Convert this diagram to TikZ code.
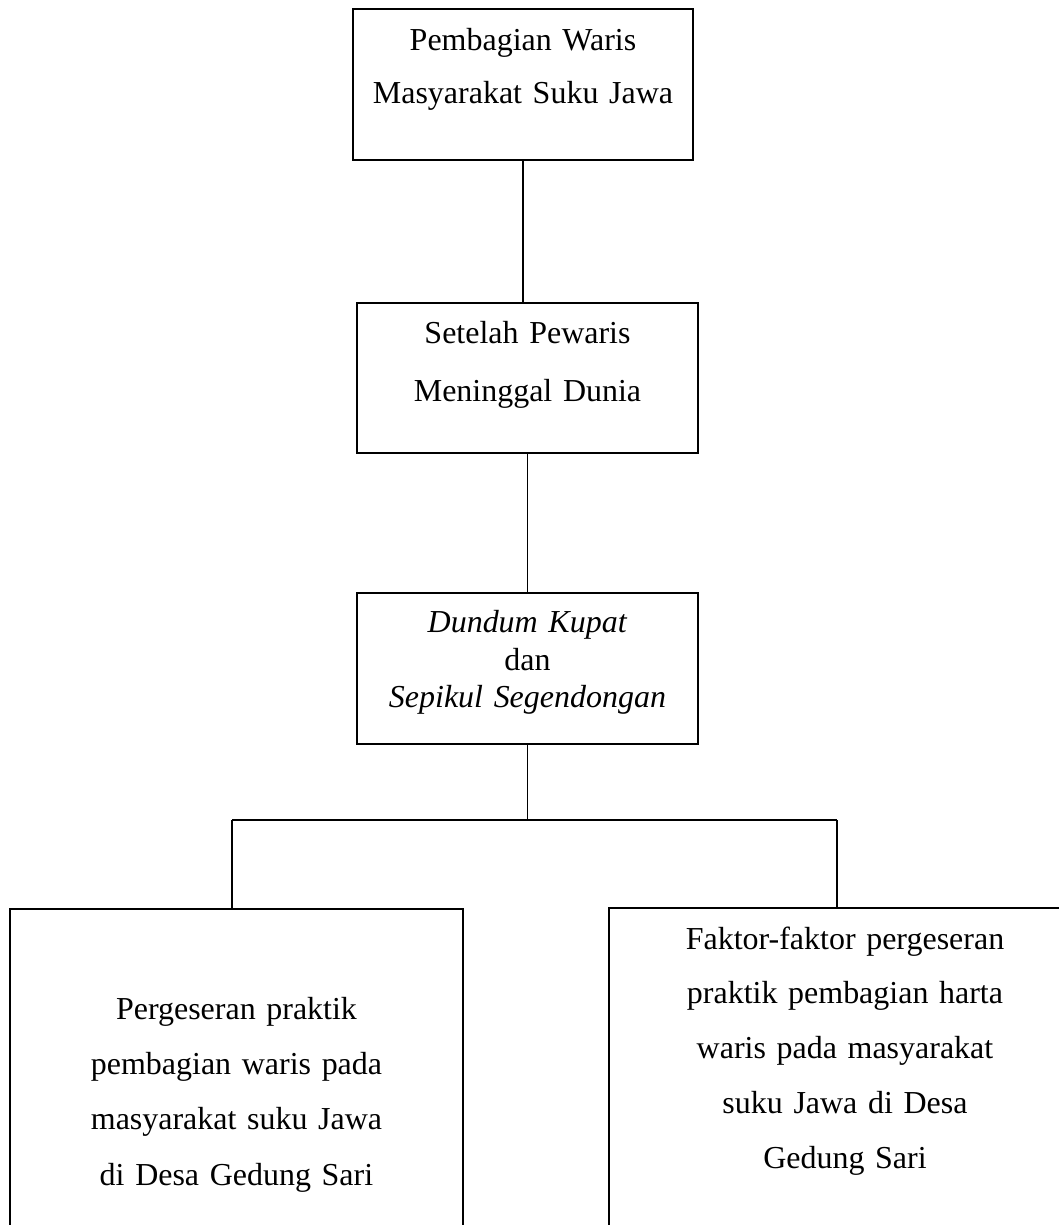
\documentclass[tikz,border=0pt]{standalone}
\usepackage{fontspec}
\setmainfont{Liberation Serif}
\usetikzlibrary{calc}
\usetikzlibrary{positioning}
\tikzset{
  box/.style={draw, anchor=north, align=center, inner sep=0pt,
    font=\fontsize{18.2}{#1}\selectfont},
}

\begin{document}
\begin{tikzpicture}[x=0.02cm, y=-0.02cm, line width=1pt]
  \useasboundingbox (0,0) rectangle (1059,1225);
  \clip (0,0) rectangle (1059,1225);

  \node [box=30.6pt, text width=6.8cm] at (523,8) (waris)
    {\rule{0pt}{0.826cm}Pembagian Waris\\Masyarakat Suku Jawa\rule[-1.114cm]{0pt}{0pt}};
  \node [box=33pt, text width=6.82cm] at (527.5,302) (pewaris)
    {\rule{0pt}{0.82cm}Setelah Pewaris\\Meninggal Dunia\rule[-1.026cm]{0pt}{0pt}};
  \node [box=21.3pt, text width=6.82cm] at (527.5,592) (dundum)
    {\rule{0pt}{0.8cm}\textit{Dundum Kupat}\\dan\\\textit{Sepikul Segendongan}\rule[-0.726cm]{0pt}{0pt}};

  % bottom boxes run past the edge of the page
  \node [box=31.5pt, text width=9.06cm] at (236.5,908) (pergeseran)
    {\rule{0pt}{2.206cm}Pergeseran praktik\\pembagian waris pada\\masyarakat suku Jawa\\di Desa Gedung Sari\rule[-1.8cm]{0pt}{0pt}};
  \node [box=31.2pt, text width=9.44cm] at (845,907) (faktor)
    {\rule{0pt}{0.826cm}Faktor-faktor pergeseran\\praktik pembagian harta\\waris pada masyarakat\\suku Jawa di Desa\\Gedung Sari\rule[-2.2cm]{0pt}{0pt}};

  \draw (waris.south) -- (waris.south |- pewaris.north);
  \draw (pewaris.south) -- (dundum.north);

  \coordinate (barL) at (232,820);
  \coordinate (barR) at (837,820);
  \draw (dundum.south) -- (dundum.south |- barL);
  \draw (barL) -- (barR);
  \draw (barL) -- (barL |- pergeseran.north);
  \draw (barR) -- (barR |- faktor.north);

\end{tikzpicture}
\end{document}
